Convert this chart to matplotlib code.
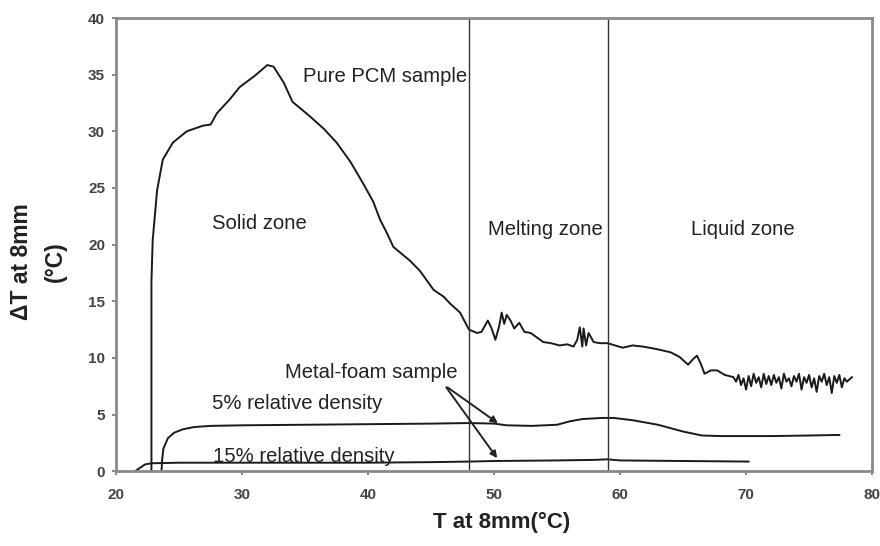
import matplotlib
matplotlib.use("Agg")
import matplotlib.pyplot as plt

# ---------------- data ----------------
pcm_T = [22.8, 22.8, 22.9, 23.25, 23.7, 24.5, 25.6, 26.9, 27.5, 28.0, 29.0, 29.8, 31.0, 32.0, 32.5,
         33.3, 34.0, 35.4, 36.5, 37.5, 38.6, 39.6, 40.4, 40.95, 41.5, 42.0, 43.3, 44.1, 45.2, 46.0,
         46.5, 47.3, 48.0, 48.65, 49.0, 49.5, 49.8, 50.1, 50.4, 50.6, 50.8, 51.0, 51.3, 51.6, 52.0,
         52.4, 52.9, 53.4, 53.9, 54.5, 55.2, 55.8, 56.3, 56.6, 56.8, 57.0, 57.1, 57.3, 57.5, 57.9,
         58.4, 59.0, 59.6, 60.2, 61.0, 61.8, 62.8, 64.0, 64.7, 65.4, 65.8, 66.1, 66.4, 66.7, 67.2,
         67.7, 68.3, 69.0, 69.2, 69.4, 69.6, 69.8, 70.0, 70.2, 70.4, 70.6, 70.8, 71.0, 71.2, 71.4,
         71.6, 71.8, 72.0, 72.2, 72.4, 72.6, 72.8, 73.0, 73.2, 73.4, 73.6, 73.8, 74.0, 74.2, 74.4,
         74.6, 74.8, 75.0, 75.2, 75.4, 75.6, 75.8, 76.0, 76.2, 76.4, 76.6, 76.8, 77.0, 77.2, 77.4,
         77.6, 77.8, 78.0, 78.4]
pcm_dT = [0.0, 16.7, 20.4, 24.8, 27.5, 29.0, 30.0, 30.5, 30.6, 31.6, 32.8, 33.9, 34.9, 35.85, 35.7,
          34.3, 32.6, 31.3, 30.2, 29.0, 27.3, 25.4, 23.8, 22.2, 21.0, 19.8, 18.6, 17.7, 16.0, 15.4,
          14.8, 14.0, 12.5, 12.2, 12.3, 13.3, 12.6, 11.6, 12.8, 14.0, 13.0, 13.8, 13.3, 12.6, 13.1,
          12.3, 12.2, 11.8, 11.4, 11.3, 11.1, 11.2, 11.0, 11.6, 12.7, 11.0, 12.6, 11.1, 12.2, 11.4,
          11.3, 11.3, 11.1, 10.9, 11.1, 11.0, 10.8, 10.5, 10.1, 9.4, 9.9, 10.2, 9.5, 8.6, 8.9,
          8.9, 8.5, 8.3, 7.9, 8.5, 7.6, 8.2, 7.2, 8.4, 7.5, 8.6, 7.8, 8.3, 7.4, 8.6,
          7.7, 8.4, 7.6, 8.5, 7.8, 8.3, 7.3, 8.6, 7.9, 8.2, 7.5, 8.4, 7.9, 8.6, 7.2,
          8.3, 7.8, 8.5, 7.4, 8.2, 7.0, 8.4, 7.9, 8.6, 7.6, 8.3, 6.9, 8.4, 7.8, 8.5,
          7.4, 8.2, 7.9, 8.3]

foam5_T = [23.6, 23.65, 23.75, 24.1, 24.6, 25.3, 26.2, 27.5, 30.0, 35.0, 40.0, 45.0, 48.0, 50.0,
           51.0, 53.0, 55.0, 56.0, 57.0, 58.5, 59.5, 61.0, 63.0, 65.0, 66.5, 68.0, 72.0, 75.0, 77.4]
foam5_dT = [0.0, 1.0, 2.0, 2.9, 3.4, 3.7, 3.9, 4.0, 4.05, 4.1, 4.15, 4.2, 4.25, 4.2,
            4.05, 4.0, 4.1, 4.4, 4.6, 4.7, 4.7, 4.5, 4.1, 3.5, 3.15, 3.1, 3.1, 3.15, 3.2]

foam15_T = [21.5, 21.9, 22.3, 22.8, 25.0, 30.0, 40.0, 45.0, 48.0, 50.0, 55.0, 58.0, 59.0, 60.0, 65.0, 70.2]
foam15_dT = [0.0, 0.3, 0.6, 0.7, 0.75, 0.75, 0.75, 0.8, 0.85, 0.9, 0.95, 1.0, 1.05, 0.95, 0.9, 0.85]

zone_bounds = [48, 59]
x_ticks = [20, 30, 40, 50, 60, 70, 80]
y_ticks = [0, 5, 10, 15, 20, 25, 30, 35, 40]

plt.rcParams['font.family'] = ['Liberation Sans', 'DejaVu Sans']

fig = plt.figure(figsize=(8.8, 5.46), dpi=100)
ax = fig.add_axes([0.132, 0.137, 0.859, 0.830])

line_kw = dict(color='#1a1a1a', lw=1.4)
ax.plot(pcm_T, pcm_dT, **line_kw)
ax.plot(foam5_T, foam5_dT, **line_kw)
ax.plot(foam15_T, foam15_dT, **line_kw)
for xb in zone_bounds:
    ax.axvline(xb, color='#333333', lw=1.0)

ax.set_xlim(20, 80)
ax.set_ylim(0, 40)
ax.set_xticks(x_ticks)
ax.set_yticks(y_ticks)
for s in ax.spines.values():
    s.set_color('#8a8a8a')
    s.set_linewidth(2.0)
ax.tick_params(axis='both', colors='#8a8a8a', labelcolor='#444444', labelsize=11, length=3, width=1.5)
ax.tick_params(axis='x', pad=9)
ax.tick_params(axis='y', pad=5)
for lab in ax.get_xticklabels() + ax.get_yticklabels():
    lab.set_fontweight('bold')

fig.text(502 / 880, 1 - 522 / 546, 'T at 8mm(°C)', fontsize=16, fontweight='bold',
         color='#222222', ha='center', va='center')
fig.text(38 / 880, 1 - 262 / 546, 'ΔT at 8mm\n(°C)', fontsize=16.5, fontweight='bold',
         color='#222222', ha='center', va='center', rotation=90, linespacing=1.6,
         multialignment='center')

tkw = dict(fontsize=14.6, color='#222222', va='center', ha='left')
ax.text(34.8, 34.8, 'Pure PCM sample', **tkw)
ax.text(27.6, 21.9, 'Solid zone', **tkw)
ax.text(49.5, 21.3, 'Melting zone', **tkw)
ax.text(65.6, 21.3, 'Liquid zone', **tkw)
ax.text(33.4, 8.7, 'Metal-foam sample', **tkw)
ax.text(27.6, 6.0, '5% relative density', **tkw)
ax.text(27.7, 1.3, '15% relative density', **tkw)

akw = dict(arrowstyle='-|>', color='#222222', lw=1.4, mutation_scale=10, shrinkA=0, shrinkB=0)
ax.annotate('', xy=(50.3, 4.24), xytext=(46.3, 7.4), arrowprops=akw)
ax.annotate('', xy=(50.24, 1.15), xytext=(46.2, 7.4), arrowprops=akw)

fig.savefig('out.png', dpi=100)
